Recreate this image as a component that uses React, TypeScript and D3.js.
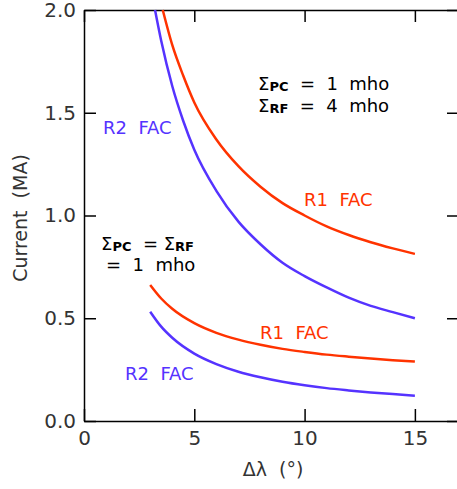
import React, { useEffect, useRef } from 'react'
import { select, scaleLinear, axisBottom, axisLeft, axisTop, axisRight, line, curveMonotoneX } from 'd3'

// values
const upperBlueX = [3.22, 3.5, 4, 4.5, 5, 6, 7, 8, 9, 10, 11, 12, 13, 14, 15]
const upperBlueY = [2.0, 1.85, 1.63, 1.46, 1.32, 1.12, 0.97, 0.86, 0.77, 0.705, 0.65, 0.6, 0.56, 0.53, 0.5]
const upperRedX = [3.57, 4, 4.5, 5, 6, 7, 8, 9, 10, 11, 12, 13, 14, 15]
const upperRedY = [2.0, 1.83, 1.68, 1.55, 1.37, 1.24, 1.14, 1.06, 1.0, 0.947, 0.905, 0.87, 0.84, 0.813]
const lowerX = [3, 3.5, 4, 5, 6, 7, 8, 9, 10, 11, 12, 13, 14, 15]
const lowerRedY = [0.662, 0.596, 0.546, 0.476, 0.429, 0.396, 0.371, 0.351, 0.336, 0.323, 0.313, 0.304, 0.296, 0.289]
const lowerBlueY = [0.532, 0.459, 0.405, 0.328, 0.277, 0.24, 0.213, 0.191, 0.174, 0.16, 0.149, 0.139, 0.131, 0.123]

const xTicks = [0, 5, 10, 15]
const yTicks = [0, 0.5, 1.0, 1.5, 2.0]

const BLUE = '#5533ff'
const RED = '#ff3300'
const FONT = 'DejaVu Sans, sans-serif'

const App = () => {
    const svgRef = useRef<SVGSVGElement>(null)

    const x = scaleLinear().domain([0, 17]).range([84, 459])
    const y = scaleLinear().domain([0, 2]).range([421, 10])

    useEffect(() => {
        const svg = select(svgRef.current)

        const style = (g: any) => {
            g.select('.domain').attr('stroke', '#000').attr('stroke-width', 1.5)
            g.selectAll('.tick line').attr('stroke', '#000').attr('stroke-width', 1.5)
            g.selectAll('text').attr('font-family', FONT).attr('font-size', 20).attr('fill', '#333')
        }

        svg.select('.x-axis')
            .attr('transform', `translate(0,${y(0)})`)
            .call(axisBottom(x).tickValues(xTicks).tickFormat((d: any) => String(d)).tickSizeInner(-12).tickSizeOuter(0).tickPadding(10) as any)
            .call(style)
        svg.select('.x-top')
            .attr('transform', `translate(0,${y(2)})`)
            .call(axisTop(x).tickValues(xTicks).tickFormat(() => '').tickSizeInner(-12).tickSizeOuter(0) as any)
            .call(style)
        svg.select('.y-axis')
            .attr('transform', `translate(${x(0)},0)`)
            .call(axisLeft(y).tickValues(yTicks).tickFormat((d: any) => d.toFixed(1)).tickSizeInner(-12).tickSizeOuter(0).tickPadding(8) as any)
            .call(style)
        svg.select('.y-right')
            .attr('transform', `translate(${x(17)},0)`)
            .call(axisRight(y).tickValues(yTicks).tickFormat(() => '').tickSizeInner(-12).tickSizeOuter(0) as any)
            .call(style)
    }, [])

    const path = (xs: number[], ys: number[]) =>
        line<number>().x((d, i) => x(xs[i])).y((d) => y(d)).curve(curveMonotoneX)(ys) || ''

    const lbl = { fontFamily: FONT, fontSize: 18, whiteSpace: 'pre' as const }
    const sub = { fontFamily: FONT, fontSize: 13, fontWeight: 'bold' as const }

    return (
        <svg ref={svgRef} width={457} height={489} style={{ position: 'absolute', left: 0, top: 0, background: '#fff' }}>
            <g className='x-axis' />
            <g className='x-top' />
            <g className='y-axis' />
            <g className='y-right' />

            <path d={path(upperBlueX, upperBlueY)} fill='none' stroke={BLUE} strokeWidth={2.5} />
            <path d={path(upperRedX, upperRedY)} fill='none' stroke={RED} strokeWidth={2.5} />
            <path d={path(lowerX, lowerRedY)} fill='none' stroke={RED} strokeWidth={2.5} />
            <path d={path(lowerX, lowerBlueY)} fill='none' stroke={BLUE} strokeWidth={2.5} />

            <text x={103} y={134} fill={BLUE} style={lbl}>R2  FAC</text>
            <text x={304} y={206} fill={RED} style={lbl}>R1  FAC</text>
            <text x={260} y={339} fill={RED} style={lbl}>R1  FAC</text>
            <text x={125} y={380} fill={BLUE} style={lbl}>R2  FAC</text>

            <text x={258} y={90} style={lbl}>Σ<tspan style={sub} dy={1}>PC</tspan><tspan dy={-1}>  =  1  mho</tspan></text>
            <text x={258} y={112} style={lbl}>Σ<tspan style={sub} dy={1}>RF</tspan><tspan dy={-1}>  =  4  mho</tspan></text>

            <text x={101} y={250} style={lbl}>Σ<tspan style={sub} dy={1}>PC</tspan><tspan dy={-1}>  = Σ</tspan><tspan style={sub} dy={1}>RF</tspan></text>
            <text x={106} y={271} style={lbl}>=  1  mho</text>

            <text x={273} y={476} textAnchor='middle' fill='#333' style={{ fontFamily: FONT, fontSize: 19, whiteSpace: 'pre' }}>Δλ  (°)</text>
            <text transform='translate(27,218) rotate(-90)' textAnchor='middle' fill='#333' style={{ fontFamily: FONT, fontSize: 19, whiteSpace: 'pre' }}>Current  (MA)</text>
        </svg>
    )
}

export default App
